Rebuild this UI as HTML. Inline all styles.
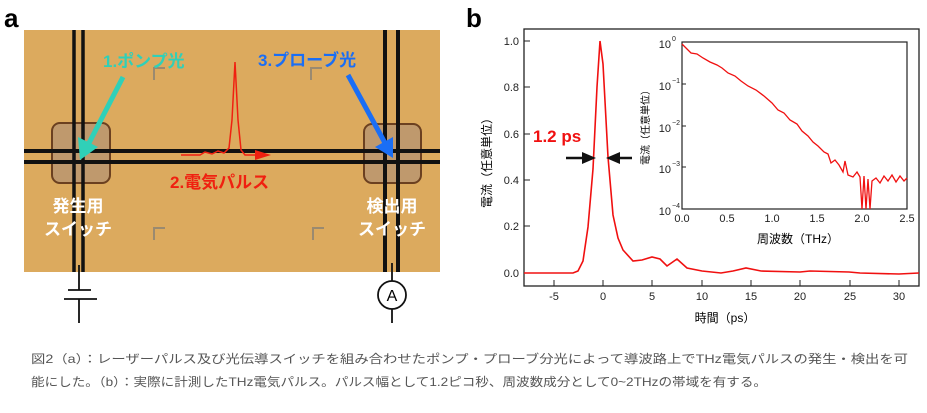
<!DOCTYPE html>
<html><head><meta charset="utf-8"><style>
body{margin:0;background:#fff;}
svg{display:block;font-family:"Liberation Sans","Noto Sans CJK JP",sans-serif;}
</style></head><body>
<svg width="927" height="413" viewBox="0 0 927 413">
<text x="4" y="27" font-size="26" font-weight="bold">a</text>
<text x="466" y="27" font-size="26" font-weight="bold">b</text>
<!-- photo -->
<rect x="24" y="30" width="416" height="242" fill="#dcaa5e"/>
<g fill="none" stroke="#9a8a70" stroke-width="2">
<path d="M154 80V68H165"/><path d="M311 80V68H322"/><path d="M154 240V228H165"/><path d="M313 240V228H324"/>
</g>
<!-- squares -->
<rect x="52" y="123" width="58" height="60" rx="8" fill="#8a7a8a" fill-opacity="0.35" stroke="#6b4020" stroke-width="2"/>
<rect x="364" y="124" width="57" height="59" rx="8" fill="#8a7a8a" fill-opacity="0.35" stroke="#6b4020" stroke-width="2"/>
<g stroke="#111">
<line x1="74" y1="30" x2="74" y2="272" stroke-width="3.5"/>
<line x1="83" y1="30" x2="83" y2="272" stroke-width="3.5"/>
<line x1="385" y1="30" x2="385" y2="272" stroke-width="4"/>
<line x1="398" y1="30" x2="398" y2="272" stroke-width="4"/>
<line x1="24" y1="151" x2="440" y2="151" stroke-width="4"/>
<line x1="24" y1="162" x2="440" y2="162" stroke-width="4"/>
</g>
<!-- pulse -->
<path d="M181 155 L200 155 L205 152 L212 154 L218 151 L224 153 L229 148 L232 120 L235 62 L238 120 L241 150 L245 155 L262 155" fill="none" stroke="#f02010" stroke-width="1.5"/>
<path d="M255 150 L271 155 L255 160 Z" fill="#f02010"/>
<!-- arrows -->
<line x1="123" y1="77" x2="88" y2="145" stroke="#30d0b8" stroke-width="5"/>
<path d="M80 160 L78 137 L98 147 Z" fill="#30d0b8"/>
<line x1="348" y1="75" x2="385" y2="143" stroke="#1a6ef5" stroke-width="5"/>
<path d="M393 158 L375 147 L393 137 Z" fill="#1a6ef5"/>
<g font-weight="bold" font-size="17">
<text x="103" y="67" fill="#30d0b8">1.ポンプ光</text>
<text x="258" y="66" fill="#1a6ef5">3.プローブ光</text>
<text x="170" y="188" fill="#f02010">2.電気パルス</text>
<g fill="#fff" text-anchor="middle">
<text x="78" y="212">発生用</text><text x="78" y="235">スイッチ</text>
<text x="392" y="212">検出用</text><text x="392" y="235">スイッチ</text>
</g></g>
<!-- circuit -->
<g stroke="#111" stroke-width="1.8" fill="none">
<line x1="79" y1="265" x2="79" y2="290"/><line x1="68" y1="290" x2="91" y2="290"/>
<line x1="64" y1="299" x2="97" y2="299"/><line x1="79" y1="299" x2="79" y2="323"/>
<line x1="392" y1="263" x2="392" y2="281"/><circle cx="392" cy="295" r="14"/>
<line x1="392" y1="309" x2="392" y2="323"/>
</g>
<text x="392" y="301" font-size="16" text-anchor="middle">A</text>
<!-- panel b -->
<rect x="524" y="29" width="395" height="257" fill="none" stroke="#222" stroke-width="1.3"/>
<g stroke="#222" stroke-width="1">
<line x1="524" y1="41" x2="530" y2="41"/><line x1="524" y1="87" x2="530" y2="87"/><line x1="524" y1="134" x2="530" y2="134"/><line x1="524" y1="180" x2="530" y2="180"/><line x1="524" y1="226" x2="530" y2="226"/><line x1="524" y1="273" x2="530" y2="273"/>
<line x1="554" y1="286" x2="554" y2="280"/><line x1="603" y1="286" x2="603" y2="280"/><line x1="652" y1="286" x2="652" y2="280"/><line x1="702" y1="286" x2="702" y2="280"/><line x1="751" y1="286" x2="751" y2="280"/><line x1="800" y1="286" x2="800" y2="280"/><line x1="850" y1="286" x2="850" y2="280"/><line x1="899" y1="286" x2="899" y2="280"/>
</g>
<g font-size="11" fill="#222" text-anchor="end">
<text x="519" y="45">1.0</text><text x="519" y="91">0.8</text><text x="519" y="138">0.6</text><text x="519" y="184">0.4</text><text x="519" y="230">0.2</text><text x="519" y="277">0.0</text>
</g>
<g font-size="11" fill="#222" text-anchor="middle">
<text x="554" y="300">-5</text><text x="603" y="300">0</text><text x="652" y="300">5</text><text x="702" y="300">10</text><text x="751" y="300">15</text><text x="800" y="300">20</text><text x="850" y="300">25</text><text x="899" y="300">30</text>
</g>
<text x="725" y="322" font-size="12" text-anchor="middle">時間（ps）</text>
<text transform="translate(491,160) rotate(-90)" font-size="12" text-anchor="middle">電流（任意単位）</text>
<path d="M524 273 L573 273 L578 271 L583 261 L588 227 L593 169 L597 87 L600 41 L603 64 L608 157 L613 215 L618 238 L623 250 L633 261 L642 260 L652 257 L660 259 L667 266 L677 259 L687 268 L702 271 L721 273 L733 271 L746 268 L761 271 L800 272 L810 271 L849 272 L860 273 L899 274 L919 273" fill="none" stroke="#f01010" stroke-width="1.6"/>
<text x="533" y="142" font-size="17" font-weight="bold" fill="#f01010">1.2 ps</text>
<line x1="566" y1="158" x2="585" y2="158" stroke="#111" stroke-width="2.5"/><path d="M596 158 L582 152 L582 164 Z" fill="#111"/>
<line x1="615" y1="158" x2="632" y2="158" stroke="#111" stroke-width="2.5"/><path d="M606 158 L620 152 L620 164 Z" fill="#111"/>
<!-- inset -->
<rect x="682" y="42" width="225" height="167" fill="#fff" stroke="#222" stroke-width="1.2"/>
<g stroke="#222"><line x1="682" y1="84" x2="686" y2="84"/><line x1="682" y1="126" x2="686" y2="126"/><line x1="682" y1="167" x2="686" y2="167"/></g>
<g font-size="11" fill="#222" text-anchor="end">
<text x="671" y="48">10</text><text x="671" y="90">10</text><text x="671" y="132">10</text><text x="671" y="173">10</text><text x="671" y="215">10</text>
</g>
<g font-size="7" fill="#222"><text x="672" y="41">0</text><text x="672" y="83">−1</text><text x="672" y="125">−2</text><text x="672" y="166">−3</text><text x="672" y="208">−4</text></g>
<g font-size="11" fill="#222" text-anchor="middle">
<text x="682" y="222">0.0</text><text x="727" y="222">0.5</text><text x="772" y="222">1.0</text><text x="817" y="222">1.5</text><text x="862" y="222">2.0</text><text x="907" y="222">2.5</text>
</g>
<text x="798" y="243" font-size="12" text-anchor="middle">周波数（THz）</text>
<text transform="translate(649,125) rotate(-90)" font-size="10" text-anchor="middle">電流（任意単位）</text>
<path d="M682 44 L686 48 L691 53 L697 54 L703 58 L710 62 L717 65 L722 68 L728 73 L735 76 L741 81 L748 86 L756 90 L764 96 L772 103 L778 110 L784 113 L790 120 L797 124 L802 131 L808 136 L813 142 L818 146 L824 152 L828 154 L831 163 L835 160 L839 165 L843 172 L845 161 L848 175 L853 177 L857 172 L860 177 L862 209 L864 176 L866 209 L868 179 L870 209 L872 181 L876 178 L880 183 L884 176 L888 181 L892 175 L896 182 L900 176 L904 181 L907 178" fill="none" stroke="#f01010" stroke-width="1.3"/>
<!-- caption -->
<g font-size="12" fill="#555">
<text x="31" y="363" textLength="877" lengthAdjust="spacingAndGlyphs">図2（a）：レーザーパルス及び光伝導スイッチを組み合わせたポンプ・プローブ分光によって導波路上でTHz電気パルスの発生・検出を可</text>
<text x="31" y="386" textLength="736" lengthAdjust="spacingAndGlyphs">能にした。（b）：実際に計測したTHz電気パルス。パルス幅として1.2ピコ秒、周波数成分として0~2THzの帯域を有する。</text>
</g>
</svg>
</body></html>
